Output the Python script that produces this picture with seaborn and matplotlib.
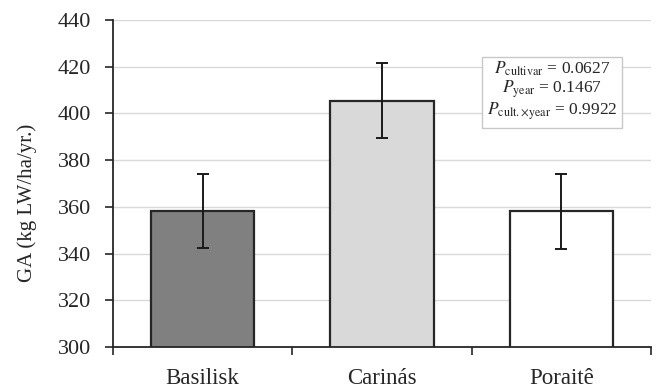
import matplotlib
matplotlib.use("Agg")
import matplotlib.pyplot as plt
import seaborn as sns
import pandas as pd
import numpy as np

cultivars = ["Basilisk", "Carinás", "Poraitê"]
ga_means = [358.3, 405.4, 358.0]
ga_err = [15.9, 16.0, 16.0]
bar_colors = ["#808080", "#d9d9d9", "#ffffff"]
y_ticks = [300, 320, 340, 360, 380, 400, 420, 440]
stats_text = [r"$P_{\mathrm{cultivar}}$ = 0.0627",
              r"$P_{\mathrm{year}}$ = 0.1467",
              r"$P_{\mathrm{cult.{\times}year}}$ = 0.9922"]

sns.set_theme(style="white")
plt.rcParams["font.family"] = ["Liberation Serif", "DejaVu Serif"]
plt.rcParams["mathtext.fontset"] = "stix"

df = pd.DataFrame({"cultivar": cultivars, "ga": ga_means})

fig = plt.figure(figsize=(6.56, 3.92), dpi=100)
ax = fig.add_axes([0.1723, 0.115, 0.8201, 0.834])

ax.yaxis.grid(True, color="#d9d9d9", linewidth=1.0, zorder=0)
ax.set_axisbelow(True)

sns.barplot(data=df, x="cultivar", y="ga", order=cultivars, hue="cultivar",
            palette=bar_colors, legend=False, width=0.575,
            edgecolor="#262626", linewidth=1.6, ax=ax, zorder=2)

x = np.arange(len(cultivars))
ax.errorbar(x, ga_means, yerr=ga_err, fmt="none", ecolor="#1a1a1a",
            elinewidth=1.4, capsize=4, capthick=1.4, zorder=3)

ax.set_ylim(300, 440)
ax.set_xlim(-0.5, 2.5)
ax.set_yticks(y_ticks)
ax.set_yticklabels([str(v) for v in y_ticks], fontsize=16)
ax.set_xticks(x)
ax.set_xticklabels(cultivars, fontsize=16.5)
ax.set_xticks([-0.5, 0.5, 1.5, 2.5], minor=True)
ax.tick_params(axis="x", which="major", length=0, pad=15)
ax.tick_params(axis="x", which="minor", length=6, width=1.2, color="#262626", direction="out", bottom=True)
ax.tick_params(axis="y", which="major", length=6, width=1.2, color="#262626", direction="out", left=True, pad=10)

for side in ["top", "right"]:
    ax.spines[side].set_visible(False)
for side in ["left", "bottom"]:
    ax.spines[side].set_color("#262626")
    ax.spines[side].set_linewidth(1.3)

ax.set_xlabel("")
ax.set_ylabel("GA (kg LW/ha/yr.)", fontsize=15)
ax.yaxis.set_label_coords(-0.141, 0.44)

ax.text(0.816, 0.783, "\n".join(stats_text), transform=ax.transAxes,
        ha="center", va="center", fontsize=12.5, linespacing=1.05,
        bbox=dict(boxstyle="square,pad=0.3", facecolor="white",
                  edgecolor="#c8c8c8", linewidth=1.0), zorder=5,
        multialignment="center")

fig.savefig("out.png", dpi=100)
